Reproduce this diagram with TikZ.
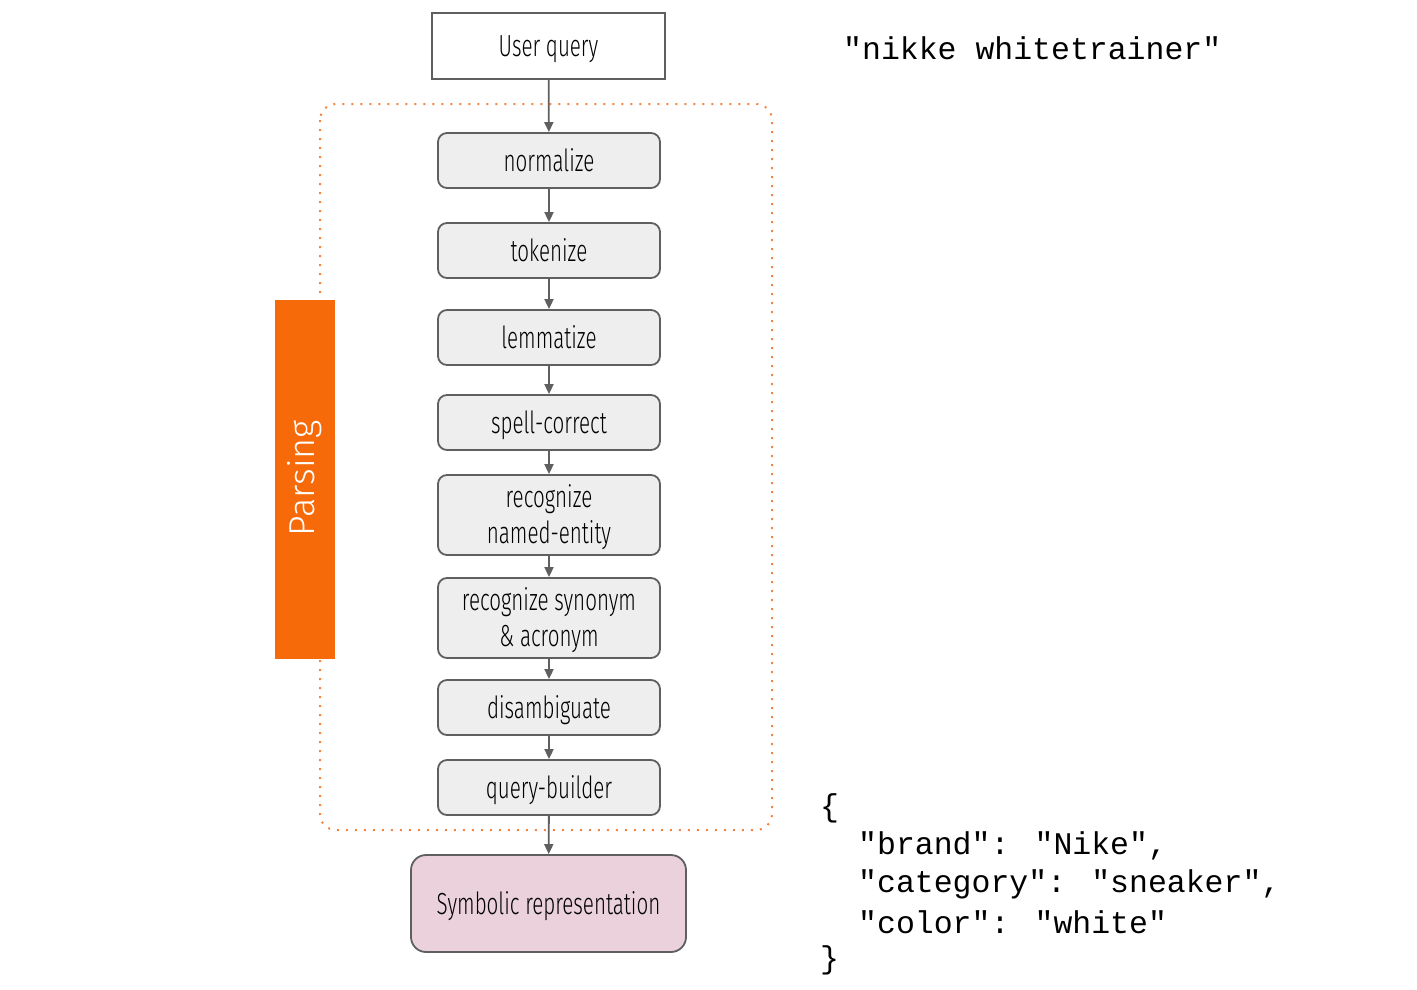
\documentclass[tikz,border=0pt]{standalone}
\usepackage{fontspec}
\setmainfont{Fira Sans Light}[FakeStretch=0.675]
\newfontfamily\monof{Liberation Mono}
\newfontfamily\parsef{Fira Sans Light}
\usetikzlibrary{arrows.meta}
\definecolor{edge}{HTML}{5F5F5F}
\definecolor{boxfill}{HTML}{EEEEEE}
\definecolor{pinkfill}{HTML}{EAD1DC}
\definecolor{orng}{HTML}{F66A0A}
\definecolor{dotorng}{HTML}{F4843F}
\tikzset{
  stepbox/.style={draw=edge, line width=1.8pt, fill=boxfill, rounded corners=9pt,
    minimum width=222pt, minimum height=55pt, align=center, inner sep=0pt,
    text height=21pt, text depth=0pt,
    font=\fontsize{30.5}{36}\selectfont},
  twoline/.style={minimum height=80pt, text height=57pt},
  plainbox/.style={draw=edge, line width=1.8pt, fill=white,
    minimum width=233pt, minimum height=66pt, inner sep=0pt,
    text height=21pt, text depth=0pt,
    font=\fontsize{30.5}{36}\selectfont},
  outbox/.style={draw=edge, line width=1.8pt, fill=pinkfill, rounded corners=15pt,
    minimum width=275pt, minimum height=97pt, inner sep=0pt,
    text height=21pt, text depth=0pt,
    font=\fontsize{30.5}{36}\selectfont},
  arr/.style={draw=edge, line width=1.8pt, -{Triangle[length=10pt,width=9pt]}},
  mono/.style={font=\monof\fontsize{31.5}{38}\selectfont, anchor=west, inner sep=0pt}
}
\begin{document}
\begin{tikzpicture}[x=1pt,y=-1pt]
\useasboundingbox (0,0) rectangle (1417,989);
% dotted parsing frame
\draw[dotorng, line width=2pt, dash pattern=on 2pt off 7pt, rounded corners=16pt]
  (320,104) rectangle (772,830);
% Parsing tab
\node[fill=orng, minimum width=60pt, minimum height=359pt, inner sep=0pt] (ptab) at (305,479.5) {};
\node[rotate=90, text=white, font=\parsef\fontsize{36}{40}\selectfont] (plabel) at (305,478) {Parsing};
% nodes
\node[plainbox] (uq) at (548.5,46) {User query};
\node[stepbox] (n1) at (549,160.5) {normalize};
\node[stepbox] (n2) at (549,250.5) {tokenize};
\node[stepbox] (n3) at (549,337.5) {lemmatize};
\node[stepbox] (n4) at (549,422.5) {spell-correct};
\node[stepbox, twoline] (n5) at (549,515) {recognize\\named-entity};
\node[stepbox, twoline] (n6) at (549,618) {recognize synonym\\\& acronym};
\node[stepbox] (n7) at (549,707.5) {disambiguate};
\node[stepbox] (n8) at (549,787.5) {query-builder};
\node[outbox] (sr) at (548.5,903.5) {Symbolic representation};
% connectors
\draw[arr] (uq) -- (n1);
\draw[arr] (n1) -- (n2);
\draw[arr] (n2) -- (n3);
\draw[arr] (n3) -- (n4);
\draw[arr] (n4) -- (n5);
\draw[arr] (n5) -- (n6);
\draw[arr] (n6) -- (n7);
\draw[arr] (n7) -- (n8);
\draw[arr] (n8) -- (sr);
% texts
\node[mono] (q) at (843,48) {"nikke whitetrainer"};
\node[mono] (j0) at (820,808) {\{};
\node[mono] (j1) at (858,846) {"brand": "Nike",};
\node[mono] (j2) at (858,884) {"category": "sneaker",};
\node[mono] (j3) at (858,922) {"color": "white"};
\node[mono] (j4) at (820,960) {\}};
\end{tikzpicture}
\end{document}
